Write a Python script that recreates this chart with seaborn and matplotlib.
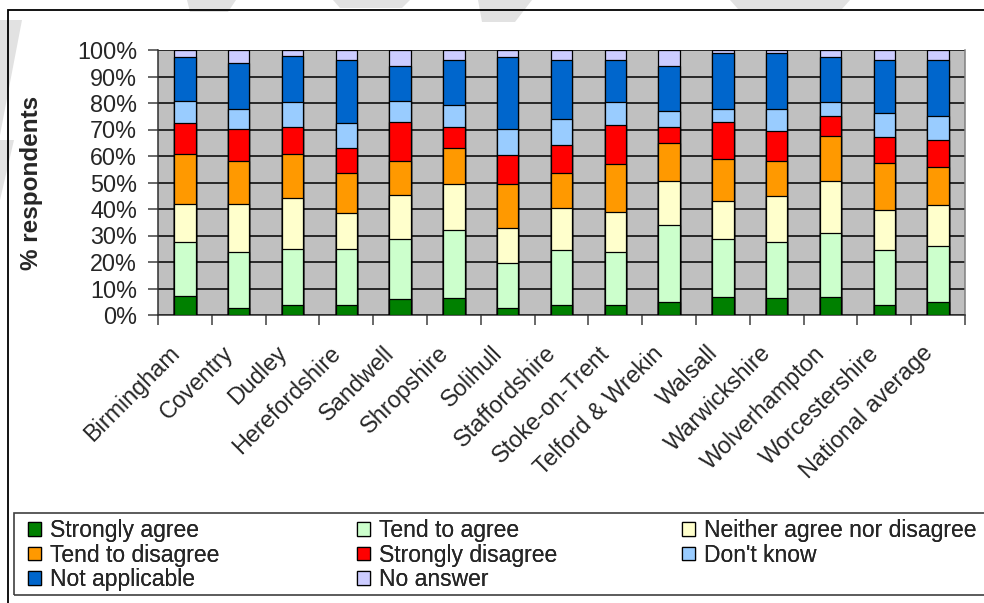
import numpy as np
import pandas as pd
import matplotlib
matplotlib.use("Agg")
import matplotlib.pyplot as plt
import seaborn as sns
from matplotlib.patches import Patch, Rectangle, Polygon
from matplotlib.transforms import ScaledTranslation

# ---- data (percent of respondents) ----
areas = ["Birmingham", "Coventry", "Dudley", "Herefordshire", "Sandwell",
         "Shropshire", "Solihull", "Staffordshire", "Stoke-on-Trent",
         "Telford & Wrekin", "Walsall", "Warwickshire", "Wolverhampton",
         "Worcestershire", "National average"]

strongly_agree    = [7.3, 2.8, 3.8, 3.8, 6.1, 6.6, 2.8, 3.8, 3.8, 5.0, 6.8, 6.3, 6.8, 3.8, 5.0]
tend_to_agree     = [20.3, 20.8, 21.0, 21.0, 22.7, 25.6, 17.0, 20.8, 19.8, 28.8, 22.0, 21.4, 24.2, 20.8, 21.0]
neither           = [14.3, 18.3, 19.2, 13.7, 16.3, 17.4, 12.9, 15.9, 15.1, 16.9, 14.1, 17.1, 19.7, 14.9, 15.4]
tend_to_disagree  = [19.0, 16.2, 16.9, 15.2, 13.0, 13.6, 16.9, 13.1, 18.3, 14.1, 15.9, 13.3, 17.0, 18.0, 14.5]
strongly_disagree = [11.4, 12.0, 10.2, 9.5, 14.8, 7.9, 10.8, 10.7, 14.6, 6.3, 14.1, 11.5, 7.3, 9.7, 10.3]
dont_know         = [8.5, 7.5, 9.2, 9.2, 7.9, 8.0, 9.7, 9.6, 8.7, 5.7, 5.0, 8.3, 5.2, 9.2, 9.0]
not_applicable    = [16.4, 17.5, 17.4, 23.7, 13.1, 17.0, 27.1, 22.2, 15.8, 17.1, 21.1, 21.1, 17.0, 19.7, 20.9]
no_answer         = [2.8, 4.9, 2.3, 3.9, 6.1, 3.9, 2.8, 3.9, 3.9, 6.1, 1.0, 1.0, 2.8, 3.9, 3.9]

labels = ["Strongly agree", "Tend to agree", "Neither agree nor disagree",
          "Tend to disagree", "Strongly disagree", "Don't know",
          "Not applicable", "No answer"]
colors = ["#008000", "#CCFFCC", "#FFFFCC", "#FF9900", "#FF0000",
          "#99CCFF", "#0066CC", "#CCCCFF"]
y_ticks = list(range(0, 101, 10))

series = [strongly_agree, tend_to_agree, neither, tend_to_disagree,
          strongly_disagree, dont_know, not_applicable, no_answer]

# scale each row to 100% (the chart is a 100% stacked bar)
vals = np.array(series).T
vals = vals / vals.sum(axis=1, keepdims=True) * 100
cum = pd.DataFrame(np.cumsum(vals, axis=1), columns=labels)
cum["area"] = areas

sns.set_style("ticks")
plt.rcParams["font.family"] = ["Liberation Sans", "DejaVu Sans"]
FS = 16.8
LEG_FS = 16.5

fig = plt.figure(figsize=(9.84, 6.03), dpi=100)
W, H = 984, 603

# faint watermark shapes behind everything
wm = [
    [(0, 20), (22, 20), (0, 135)],
    [(0, 140), (14, 140), (0, 200)],
    [(187, 0), (236, 0), (228, 12), (190, 12)],
    [(333, 0), (410, 0), (402, 8), (340, 8)],
    [(478, 0), (532, 0), (515, 22), (482, 22)],
    [(730, 0), (850, 0), (842, 9), (738, 9)],
]
for poly in wm:
    pts = [(x / W, 1 - y / H) for x, y in poly]
    fig.add_artist(Polygon(pts, closed=True, transform=fig.transFigure,
                           facecolor="#e2e2e2", edgecolor="none", zorder=0))

# outer chart frame (runs off the right and bottom edges)
fig.add_artist(Rectangle((8 / W, -0.1), 1.2, (1 - 10 / H) + 0.1,
                         transform=fig.transFigure, fill=False,
                         edgecolor="black", linewidth=1.3, zorder=1))

ax = fig.add_axes([158 / W, 1 - 315 / H, (965 - 158) / W, (315 - 50) / H])
ax.set_facecolor("#C0C0C0")

# stacked bars: draw cumulative heights from the top category down
for i in range(len(labels) - 1, -1, -1):
    sns.barplot(data=cum, x="area", y=labels[i], color=colors[i],
                saturation=1, width=0.4, edgecolor="black",
                linewidth=0.9, ax=ax, zorder=3)

ax.set_ylim(0, 100)
ax.set_xlim(-0.5, len(areas) - 0.5)
ax.set_yticks(y_ticks)
ax.set_yticklabels([f"{t}%" for t in y_ticks], fontsize=FS)
ax.yaxis.grid(True, color="black", linewidth=1.1, zorder=0)
ax.set_axisbelow(True)

ax.set_xlabel("")
ax.set_ylabel("% respondents", fontsize=17.5, fontweight="bold")
ax.yaxis.set_label_coords((43 - 158) / (965 - 158), 0.5)

# category labels at bar centres, tick marks at category boundaries
ax.set_xticks(range(len(areas)))
ax.set_xticklabels(areas, rotation=45, ha="right", va="center",
                   rotation_mode="anchor", fontsize=FS)
ax.tick_params(axis="x", which="major", length=0, pad=25)
ax.set_xticks(np.arange(-0.5, len(areas)), minor=True)
ax.tick_params(axis="x", which="minor", length=7, width=1.1,
               color="#404040", direction="out")
ax.tick_params(axis="y", length=7, width=1.1, color="#404040", pad=8)
off = ScaledTranslation(-9 / 100, 0, fig.dpi_scale_trans)
for lab in ax.get_xticklabels():
    lab.set_transform(lab.get_transform() + off)

for s in ["left", "bottom"]:
    ax.spines[s].set_color("#303030")
    ax.spines[s].set_linewidth(1.1)
ax.spines["right"].set_color("#808080")
ax.spines["right"].set_linewidth(1.1)
ax.spines["top"].set_visible(False)

# legend box (runs off the right edge)
fig.add_artist(Rectangle((14 / W, 1 - 595 / H), 1.2, (595 - 513) / H,
                         transform=fig.transFigure, fill=False,
                         edgecolor="#404040", linewidth=1.2, zorder=1))

handles = [Patch(facecolor=c, edgecolor="black", linewidth=0.9, label=l)
           for c, l in zip(colors, labels)]
# three legend columns, read row by row
columns = [[0, 3, 6], [1, 4, 7], [2, 5]]
col_x = [28, 357, 682]
for idx, x0 in zip(columns, col_x):
    leg = fig.legend([handles[i] for i in idx], [labels[i] for i in idx],
                     loc="upper left", bbox_to_anchor=(x0 / W, 1 - 519.5 / H),
                     frameon=False, fontsize=LEG_FS, borderpad=0,
                     borderaxespad=0, handlelength=0.55, handleheight=0.55,
                     handletextpad=0.4, labelspacing=0.05)
    fig.add_artist(leg)

fig.savefig("out.png", dpi=100)
